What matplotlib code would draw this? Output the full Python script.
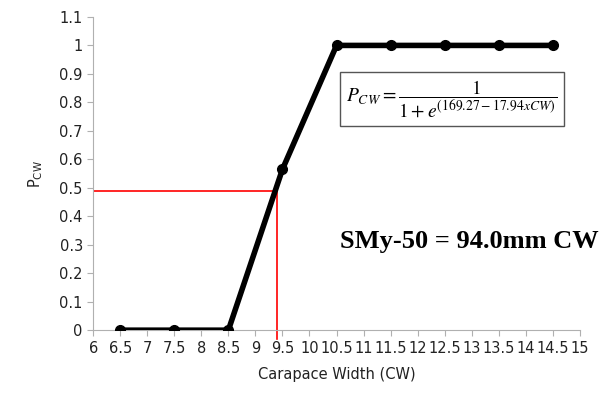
import numpy as np
import matplotlib
matplotlib.use("Agg")
import matplotlib.pyplot as plt

# data points (carapace width in cm, proportion mature)
cw = [6.5, 7.5, 8.5, 9.5, 10.5, 11.5, 12.5, 13.5, 14.5]
pcw = [0, 0, 0, 0.565, 1, 1, 1, 1, 1]

# SMy-50 marker
cw50 = 9.40
p50 = 0.49

xticks = np.arange(6, 15.01, 0.5)
xlabels = [f"{t:g}" for t in xticks]
yticks = np.arange(0, 1.11, 0.1)
ylabels = [f"{t:.1f}".replace("0.0", "0").replace("1.0", "1") for t in yticks]

fig = plt.figure(figsize=(6.13, 3.94), dpi=100)
ax = fig.add_axes([0.152, 0.162, 0.794, 0.795])

ax.plot(cw, pcw, color="black", lw=4, marker="o", ms=7, zorder=3)

# red guide lines
ax.plot([6, cw50], [p50, p50], color="red", lw=1.2, zorder=2)
ax.plot([cw50, cw50], [-0.03, p50], color="red", lw=1.2, zorder=2, clip_on=False)

ax.set_xlim(6, 15)
ax.set_ylim(0, 1.1)
ax.set_xticks(xticks)
ax.set_xticklabels(xlabels)
ax.set_yticks(yticks)
ax.set_yticklabels(ylabels)

for s in ["top", "right"]:
    ax.spines[s].set_visible(False)
for s in ["left", "bottom"]:
    ax.spines[s].set_color("#b0b0b0")
ax.tick_params(colors="#b0b0b0", labelcolor="#222222", labelsize=10.5, length=4)

ax.set_xlabel("Carapace Width (CW)", fontsize=10.5, color="#222222", labelpad=8)
ax.set_ylabel(r"P$_{\mathrm{CW}}$", fontsize=10.5, color="#222222", labelpad=10)

ax.text(0.737, 0.738,
        r"$P_{CW} = \dfrac{1}{1+e^{(169.27 - 17.94xCW)}}$",
        transform=ax.transAxes, fontsize=14, math_fontfamily="stix",
        ha="center", va="center",
        bbox=dict(boxstyle="square,pad=0.35", fc="white", ec="#555555", lw=1))

ax.text(0.507, 0.284, "SMy-50 = 94.0mm CW", transform=ax.transAxes,
        fontsize=19, fontweight="bold", family="Liberation Serif",
        ha="left", va="center")

fig.savefig("out.png", dpi=100)
